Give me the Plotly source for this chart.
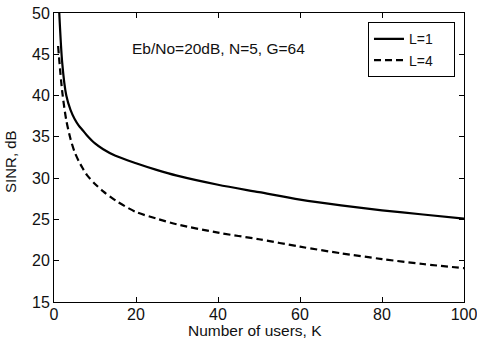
import plotly.graph_objects as go

K = [1, 2, 3, 4, 5, 6, 7, 8, 10, 12, 15, 20, 25, 30, 40, 50, 60, 70, 80, 90, 100]
sinr_L1 = [53.0, 44.0, 40.0, 38.3, 37.2, 36.4, 35.8, 35.2, 34.2, 33.5, 32.7, 31.8, 31.0, 30.3, 29.2, 28.3, 27.4, 26.7, 26.1, 25.6, 25.1]
sinr_L4 = [46.0, 40.5, 37.0, 34.8, 33.2, 32.1, 31.2, 30.4, 29.3, 28.4, 27.3, 25.9, 25.1, 24.4, 23.4, 22.6, 21.7, 20.9, 20.2, 19.6, 19.1]
x_ticks = [0, 20, 40, 60, 80, 100]
y_ticks = [15, 20, 25, 30, 35, 40, 45, 50]
note = "Eb/No=20dB, N=5, G=64"
x_title = "Number of users, K"
y_title = "SINR, dB"

FONT = "Liberation Sans, Arial, sans-serif"
TXT = "#111"

fig = go.Figure()
fig.add_trace(go.Scatter(x=K, y=sinr_L1, mode="lines", name="L=1\u00a0\u00a0\u00a0\u00a0",
                         line=dict(color="black", width=2.2, shape="spline", smoothing=0.8)))
fig.add_trace(go.Scatter(x=K, y=sinr_L4, mode="lines", name="L=4\u00a0\u00a0\u00a0\u00a0",
                         line=dict(color="black", width=2.2, dash="7px,4px", shape="spline", smoothing=0.8)))

axis_common = dict(showgrid=False, zeroline=False, showline=True, linecolor="black", linewidth=1,
                   mirror="ticks", ticks="inside", ticklen=5, tickcolor="black",
                   tickfont=dict(family=FONT, size=16, color=TXT))

fig.update_xaxes(range=[0, 100], tickvals=x_ticks, ticktext=[str(v) for v in x_ticks],
                 ticklabeloverflow="allow", ticklabelstandoff=-2, **axis_common)
fig.update_yaxes(range=[15, 50], tickvals=y_ticks, ticktext=[str(v) for v in y_ticks],
                 ticklabeloverflow="allow", **axis_common)

fig.add_annotation(x=0.49, y=-0.100, xref="paper", yref="paper", text=x_title, showarrow=False,
                   xanchor="center", yanchor="middle",
                   font=dict(family=FONT, size=15.5, color=TXT))
fig.add_annotation(x=40, y=45.7, xref="x", yref="y", text=note, showarrow=False,
                   font=dict(family=FONT, size=15.5, color=TXT))
fig.add_annotation(x=-0.105, y=0.488, xref="paper", yref="paper", text=y_title, showarrow=False,
                   textangle=-90, xanchor="center", yanchor="middle",
                   font=dict(family=FONT, size=15, color=TXT))

fig.update_layout(
    width=477, height=339,
    margin=dict(l=54, r=13, t=13, b=37, autoexpand=False),
    paper_bgcolor="white", plot_bgcolor="white",
    showlegend=True,
    legend=dict(x=0.978, y=0.968, xanchor="right", yanchor="top",
                bgcolor="white", bordercolor="black", borderwidth=1,
                font=dict(family=FONT, size=14, color=TXT),
                itemwidth=30, tracegroupgap=0),
)

fig.write_html("out.html", config={"displayModeBar": False},
               post_script="document.body.style.margin='0px';")
